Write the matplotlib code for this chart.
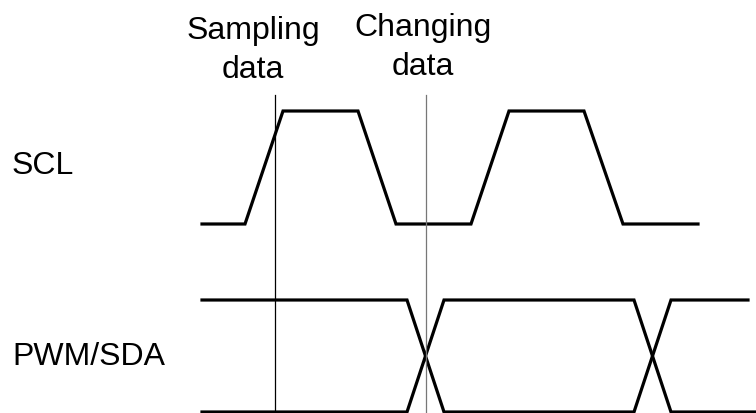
import matplotlib.pyplot as plt

plt.rcParams['font.family'] = ['Liberation Sans', 'DejaVu Sans']

# waveform corner points (pixel-like units, y grows downward)
scl_x = [202, 245, 283, 358, 396, 471, 509, 584, 623, 698]
scl_y = [224, 224, 111, 111, 224, 224, 111, 111, 224, 224]

# PWM/SDA: two traces that cross at each data change
sda_a_x = [202, 407, 444, 634, 671, 748]
sda_a_y = [300, 300, 412, 412, 300, 300]
sda_b_x = [202, 407, 444, 634, 671, 756]
sda_b_y = [412, 412, 300, 300, 412, 412]

# marker lines
marker_x = [275, 426]
marker_colors = ['black', '#777777']
marker_top = 95

labels = ['Sampling\ndata', 'Changing\ndata']
label_x = [253, 423]
label_y = [16, 13]

sig_names = ['SCL', 'PWM/SDA']
sig_y = [166, 357]

fig = plt.figure(figsize=(7.56, 4.13), dpi=100)
ax = fig.add_axes([0, 0, 1, 1])
ax.set_xlim(0, 756)
ax.set_ylim(413, 0)
ax.axis('off')

lw = 2.3
ax.plot(scl_x, scl_y, color='black', lw=lw, solid_joinstyle='miter')
ax.plot(sda_a_x, sda_a_y, color='black', lw=lw, solid_joinstyle='miter')
ax.plot(sda_b_x, sda_b_y, color='black', lw=lw, solid_joinstyle='miter')

for x, c in zip(marker_x, marker_colors):
    ax.plot([x, x], [marker_top, 413], color=c, lw=0.9)

for t, x, y in zip(labels, label_x, label_y):
    ax.text(x, y, t, ha='center', va='top', fontsize=23, linespacing=1.37)

for t, y in zip(sig_names, sig_y):
    ax.text(12, y, t, ha='left', va='center', fontsize=23)

fig.savefig('out.png', dpi=100)
